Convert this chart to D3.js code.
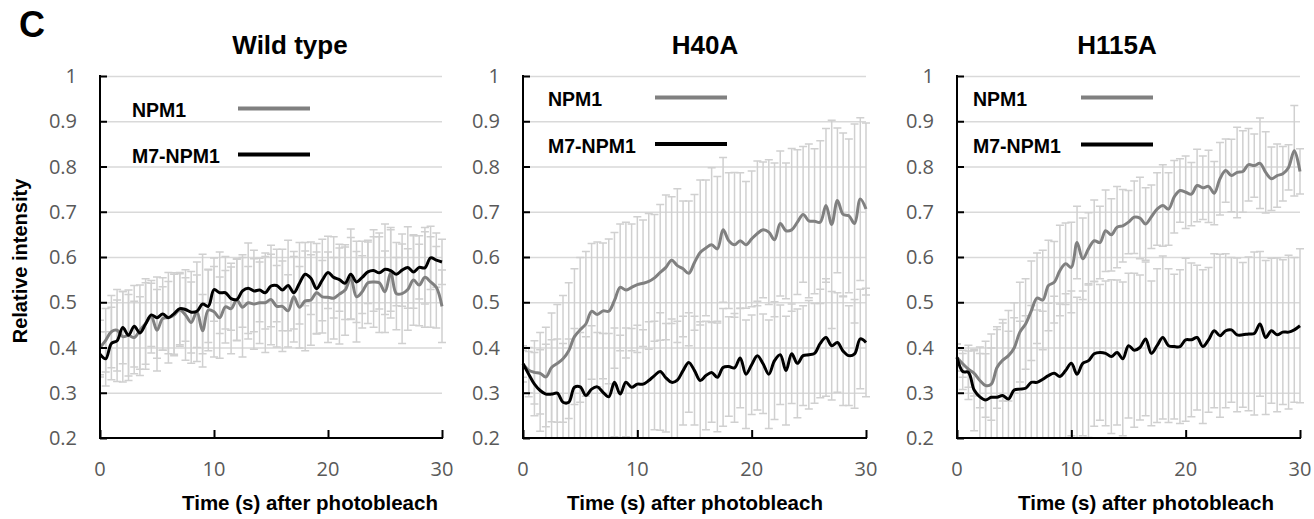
<!DOCTYPE html>
<html lang="en">
<head>
  <meta charset="UTF-8">
  <title>FRAP NPM1 / M7-NPM1</title>
  <script src="https://d3js.org/d3.v7.min.js"></script>
  <style>
    body { margin: 0; background: #fff; }
    .bold { font-family: "Liberation Sans", Arial, sans-serif; font-weight: bold; fill: #000; }
    .tick-label { font-family: "Open Sans", sans-serif; font-size: 20px; fill: #595959; }
  </style>
</head>
<body>
  <svg width="1314" height="519"></svg>

  <script>
    // Textos
    const panelTitles = ["Wild type", "H40A", "H115A"];
    const seriesNames = ["NPM1", "M7-NPM1"];
    const yTicks = [0.2, 0.3, 0.4, 0.5, 0.6, 0.7, 0.8, 0.9, 1];
    const xTicks = [0, 10, 20, 30];

    // Tempo (s), uma medida a cada 0.5 s
    const times = d3.range(61).map(i => i * 0.5);

    // Wild type
    const wtNpm1 = [
      0.400,0.416,0.435,0.438,0.424,0.427,0.422,0.438,0.453,0.468,
      0.438,0.464,0.466,0.472,0.483,0.472,0.455,0.479,0.437,0.483,
      0.479,0.466,0.490,0.486,0.505,0.489,0.499,0.496,0.499,0.499,
      0.506,0.491,0.491,0.481,0.512,0.489,0.503,0.505,0.521,0.512,
      0.511,0.509,0.518,0.527,0.553,0.512,0.523,0.543,0.545,0.543,
      0.523,0.565,0.519,0.519,0.528,0.549,0.538,0.555,0.545,0.533,
      0.491];
    const wtNpm1Sd = [
      0.06,0.07,0.08,0.09,0.10,0.09,0.08,0.10,0.09,0.08,
      0.09,0.07,0.08,0.09,0.08,0.10,0.09,0.11,0.08,0.09,
      0.10,0.09,0.08,0.10,0.09,0.11,0.08,0.10,0.09,0.11,
      0.10,0.09,0.10,0.08,0.10,0.09,0.11,0.10,0.09,0.08,
      0.10,0.09,0.11,0.10,0.09,0.10,0.08,0.09,0.10,0.11,
      0.09,0.10,0.08,0.11,0.09,0.10,0.09,0.11,0.10,0.09,
      0.08];
    const wtM7 = [
      0.385,0.375,0.409,0.415,0.444,0.427,0.447,0.432,0.452,0.472,
      0.466,0.474,0.466,0.475,0.486,0.484,0.478,0.480,0.496,0.491,
      0.528,0.521,0.521,0.508,0.506,0.525,0.531,0.525,0.527,0.521,
      0.536,0.537,0.527,0.537,0.521,0.542,0.562,0.553,0.530,0.549,
      0.566,0.555,0.550,0.542,0.562,0.545,0.555,0.567,0.570,0.565,
      0.573,0.570,0.562,0.571,0.577,0.567,0.577,0.576,0.598,0.593,
      0.589];
    const wtM7Sd = [
      0.05,0.06,0.08,0.09,0.08,0.10,0.09,0.08,0.10,0.07,
      0.09,0.08,0.10,0.09,0.08,0.07,0.09,0.08,0.11,0.08,
      0.07,0.09,0.08,0.07,0.09,0.08,0.10,0.09,0.07,0.08,
      0.09,0.08,0.09,0.10,0.08,0.09,0.07,0.08,0.10,0.09,
      0.08,0.09,0.07,0.08,0.10,0.09,0.08,0.07,0.09,0.08,
      0.10,0.09,0.07,0.08,0.09,0.08,0.07,0.08,0.07,0.06,
      0.05];

    // H40A
    const h40Npm1 = [
      0.364,0.350,0.345,0.343,0.335,0.356,0.365,0.375,0.393,0.424,
      0.439,0.452,0.480,0.473,0.481,0.480,0.504,0.533,0.527,0.533,
      0.539,0.542,0.546,0.554,0.566,0.577,0.593,0.581,0.574,0.564,
      0.588,0.610,0.620,0.627,0.618,0.660,0.636,0.627,0.636,0.627,
      0.640,0.652,0.660,0.655,0.638,0.674,0.658,0.660,0.677,0.694,
      0.680,0.679,0.677,0.714,0.672,0.725,0.694,0.691,0.674,0.728,
      0.706];
    const h40Npm1Sd = [
      0.04,0.05,0.07,0.09,0.11,0.12,0.13,0.14,0.15,0.15,
      0.16,0.16,0.15,0.16,0.15,0.16,0.15,0.14,0.15,0.14,
      0.15,0.14,0.15,0.14,0.15,0.16,0.14,0.17,0.15,0.16,
      0.15,0.16,0.15,0.17,0.16,0.16,0.15,0.16,0.15,0.14,
      0.15,0.16,0.15,0.16,0.17,0.16,0.15,0.18,0.16,0.15,
      0.17,0.16,0.18,0.17,0.23,0.16,0.18,0.17,0.22,0.18,
      0.19];
    const h40M7 = [
      0.364,0.341,0.319,0.305,0.297,0.297,0.299,0.279,0.279,0.312,
      0.313,0.294,0.308,0.313,0.301,0.291,0.323,0.297,0.323,0.312,
      0.319,0.319,0.327,0.338,0.347,0.333,0.323,0.328,0.349,0.367,
      0.349,0.327,0.338,0.345,0.334,0.356,0.358,0.355,0.377,0.341,
      0.362,0.382,0.364,0.341,0.371,0.384,0.349,0.386,0.365,0.382,
      0.384,0.387,0.409,0.422,0.404,0.411,0.392,0.382,0.386,0.419,
      0.411];
    const h40M7Sd = [
      0.03,0.05,0.07,0.09,0.11,0.12,0.12,0.13,0.14,0.13,
      0.12,0.13,0.14,0.12,0.13,0.14,0.12,0.13,0.12,0.13,
      0.13,0.12,0.13,0.12,0.13,0.12,0.14,0.13,0.12,0.11,
      0.12,0.13,0.12,0.11,0.12,0.13,0.11,0.12,0.11,0.12,
      0.11,0.12,0.11,0.12,0.13,0.11,0.12,0.11,0.12,0.11,
      0.12,0.11,0.12,0.13,0.12,0.11,0.12,0.11,0.12,0.11,
      0.12];

    // H115A
    const h115Npm1 = [
      0.378,0.364,0.352,0.343,0.327,0.316,0.319,0.356,0.372,0.382,
      0.399,0.434,0.452,0.481,0.509,0.505,0.537,0.544,0.570,0.585,
      0.577,0.632,0.596,0.618,0.636,0.632,0.658,0.649,0.666,0.669,
      0.677,0.688,0.686,0.673,0.689,0.706,0.714,0.706,0.733,0.747,
      0.743,0.739,0.758,0.753,0.756,0.741,0.773,0.791,0.780,0.787,
      0.789,0.804,0.802,0.807,0.787,0.773,0.780,0.784,0.798,0.835,
      0.789];
    const h115Npm1Sd = [
      0.03,0.03,0.04,0.05,0.06,0.07,0.08,0.09,0.09,0.10,
      0.10,0.11,0.10,0.11,0.10,0.11,0.10,0.09,0.10,0.09,
      0.10,0.08,0.09,0.08,0.09,0.08,0.09,0.08,0.09,0.08,
      0.07,0.08,0.09,0.08,0.07,0.08,0.09,0.08,0.08,0.07,
      0.08,0.07,0.08,0.07,0.08,0.07,0.08,0.07,0.08,0.10,
      0.09,0.08,0.07,0.10,0.09,0.07,0.07,0.06,0.05,0.10,
      0.05];
    const h115M7 = [
      0.378,0.347,0.345,0.306,0.291,0.284,0.290,0.290,0.294,0.286,
      0.306,0.308,0.310,0.323,0.323,0.330,0.338,0.343,0.336,0.349,
      0.365,0.341,0.365,0.371,0.386,0.389,0.387,0.380,0.389,0.375,
      0.404,0.394,0.400,0.419,0.387,0.404,0.422,0.404,0.402,0.402,
      0.417,0.417,0.422,0.402,0.417,0.437,0.426,0.437,0.439,0.428,
      0.428,0.430,0.431,0.452,0.422,0.437,0.428,0.434,0.434,0.439,
      0.448];
    const h115M7Sd = [
      0.03,0.04,0.06,0.09,0.11,0.13,0.14,0.15,0.16,0.15,
      0.16,0.15,0.16,0.17,0.16,0.15,0.16,0.17,0.16,0.17,
      0.16,0.17,0.16,0.17,0.16,0.15,0.16,0.17,0.16,0.17,
      0.16,0.17,0.16,0.17,0.16,0.17,0.18,0.17,0.16,0.17,
      0.18,0.17,0.16,0.17,0.16,0.17,0.18,0.17,0.16,0.17,
      0.16,0.17,0.18,0.16,0.17,0.16,0.17,0.16,0.17,0.16,
      0.17];

    const panelData = [
      [[wtNpm1, wtNpm1Sd], [wtM7, wtM7Sd]],
      [[h40Npm1, h40Npm1Sd], [h40M7, h40M7Sd]],
      [[h115Npm1, h115Npm1Sd], [h115M7, h115M7Sd]]
    ];

    // Posições de cada painel
    const layout = [
      {left: 100, right: 442,   titleX: 290,  xTitleX: 310, legText: 132, legLine: [238, 310],  legY: [117, 163]},
      {left: 523, right: 866,   titleX: 705,  xTitleX: 695, legText: 548, legLine: [655, 727],  legY: [106, 152.5]},
      {left: 957, right: 1300,  titleX: 1117, xTitleX: 1146, legText: 973, legLine: [1081, 1153], legY: [106, 153]}
    ];
    const plotTop = 76, plotBottom = 438;
    const lineColors = ["#808080", "#000000"];

    const svg = d3.select("svg");

    // Letra do painel
    svg.append("text").attr("class", "bold")
       .attr("x", 19).attr("y", 37)
       .style("font-size", "36px")
       .text("C");

    // Legenda do eixo Y
    svg.append("text").attr("class", "bold")
       .attr("transform", "translate(27,261) rotate(-90)")
       .attr("text-anchor", "middle")
       .style("font-size", "20px")
       .text("Relative intensity");

    layout.forEach((L, p) => {
      const x = d3.scaleLinear().domain([0, 30]).range([L.left, L.right]);
      const y = d3.scaleLinear().domain([0.2, 1]).range([plotBottom, plotTop]);
      const g = svg.append("g");

      g.append("clipPath").attr("id", "clip" + p)
       .append("rect")
       .attr("x", L.left).attr("y", plotTop - 1)
       .attr("width", L.right - L.left + 6).attr("height", plotBottom - plotTop + 1);

      // Grelha horizontal
      g.append("g")
       .attr("transform", `translate(${L.left},0)`)
       .call(d3.axisLeft(y).tickValues(yTicks.slice(1)).tickSize(-(L.right - L.left)).tickFormat(""))
       .call(s => s.select(".domain").remove())
       .selectAll("line").attr("stroke", "#d9d9d9").attr("stroke-width", 1.5);

      // Barras de erro
      const bars = g.append("g").attr("clip-path", `url(#clip${p})`)
                    .attr("stroke", "#d0d0d0").attr("stroke-width", 1.5);
      panelData[p].forEach(([vals, sd]) => {
        const pts = times.map((t, i) => ({t, lo: vals[i] - sd[i], hi: vals[i] + sd[i]}));
        bars.selectAll(null).data(pts).enter().append("path")
            .attr("fill", "none")
            .attr("d", d => {
              const cx = x(d.t), y0 = y(d.lo), y1 = y(d.hi);
              return `M${cx},${y0}V${y1}M${cx - 4},${y1}H${cx + 4}M${cx - 4},${y0}H${cx + 4}`;
            });
      });

      // Linhas
      const line = d3.line().x((d, i) => x(times[i])).y(d => y(d)).curve(d3.curveCatmullRom);
      panelData[p].forEach(([vals], s) => {
        g.append("path")
         .attr("d", line(vals))
         .attr("fill", "none")
         .attr("stroke", lineColors[s])
         .attr("stroke-width", 3)
         .attr("stroke-linejoin", "round");
      });

      // Eixo Y
      const yAxis = g.append("g")
       .attr("transform", `translate(${L.left},0)`)
       .call(d3.axisRight(y).tickValues(yTicks).tickSize(7).tickFormat(""));
      yAxis.select(".domain").attr("d", `M0,${plotTop - 1}V${plotBottom + 1}`).attr("stroke-width", 2);
      yAxis.selectAll("line").attr("stroke-width", 2);

      g.selectAll(null).data(yTicks).enter().append("text")
       .attr("class", "tick-label")
       .attr("x", L.left - 23).attr("y", d => y(d))
       .attr("text-anchor", "end").attr("dy", "0.35em")
       .text(d => d === 1 ? "1" : d.toFixed(1));

      // Eixo X
      const xAxis = g.append("g")
       .attr("transform", `translate(0,${plotBottom})`)
       .call(d3.axisTop(x).tickValues(xTicks).tickSize(8).tickFormat(""));
      xAxis.select(".domain").attr("d", `M${L.left - 1},0H${L.right + 1}`).attr("stroke-width", 2);
      xAxis.selectAll("line").attr("stroke-width", 2);

      g.selectAll(null).data(xTicks).enter().append("text")
       .attr("class", "tick-label")
       .attr("x", d => x(d)).attr("y", 469)
       .attr("text-anchor", "middle").attr("dy", "0.35em")
       .text(d => d);

      // Títulos
      g.append("text").attr("class", "bold")
       .attr("x", L.titleX).attr("y", 54)
       .attr("text-anchor", "middle")
       .style("font-size", "26px")
       .text(panelTitles[p]);

      g.append("text").attr("class", "bold")
       .attr("x", L.xTitleX).attr("y", 510)
       .attr("text-anchor", "middle")
       .style("font-size", "20.5px")
       .text("Time (s) after photobleach");

      // Legenda
      seriesNames.forEach((name, s) => {
        g.append("text").attr("class", "bold")
         .attr("x", L.legText).attr("y", L.legY[s])
         .style("font-size", "19.5px")
         .text(name);
        g.append("line")
         .attr("x1", L.legLine[0]).attr("x2", L.legLine[1])
         .attr("y1", L.legY[s] - 8.5).attr("y2", L.legY[s] - 8.5)
         .attr("stroke", lineColors[s]).attr("stroke-width", 4);
      });
    });
  </script>
</body>
</html>
